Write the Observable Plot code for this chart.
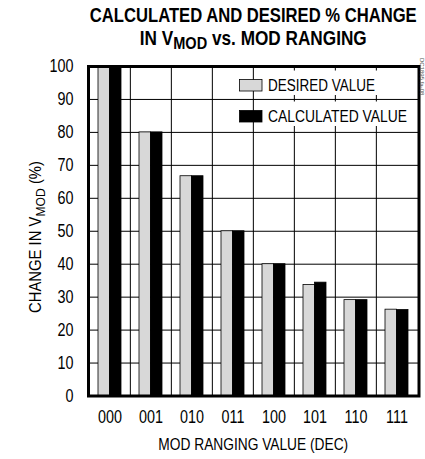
<!DOCTYPE html>
<html>
<head>
<meta charset="utf-8">
<script src="https://cdn.jsdelivr.net/npm/d3@7"></script>
<script src="https://cdn.jsdelivr.net/npm/@observablehq/plot@0.6"></script>
<style>
  html, body { margin: 0; padding: 0; background: #fff; }
  #chart { width: 425px; height: 459px; overflow: hidden; }
</style>
</head>
<body>
<div id="chart"></div>
<script>
// ---- data ----
const codes = ["000", "001", "010", "011", "100", "101", "110", "111"];
const desired = [100, 80, 66.7, 50, 40, 33.7, 29.1, 26.2];
const calculated = [100, 80, 66.7, 50, 40, 34.4, 29.1, 26.1];
const seriesNames = ["DESIRED VALUE", "CALCULATED VALUE"];
const yTicks = [0, 10, 20, 30, 40, 50, 60, 70, 80, 90, 100];
const titleLine1 = "CALCULATED AND DESIRED % CHANGE";
const titleLine2 = ["IN V", "MOD", " vs. MOD RANGING"];
const xLabel = "MOD RANGING VALUE (DEC)";
const yLabel = ["CHANGE IN V", "MOD", " (%)"];
const watermark = "DC1895 fa-08";

// ---- build ----
const desiredRows = codes.map((c, i) => ({code: c, value: desired[i]}));
const calcRows = codes.map((c, i) => ({code: c, value: calculated[i]}));

const W = 425, H = 459, ML = 88, MR = 6.5, MT = 66, MB = 63.5;
const step = (W - ML - MR) / codes.length;
const padIn = 0.44;
const bw = step * (1 - padIn);
const font = "'Liberation Sans', Arial, sans-serif";

const chart = Plot.plot({
  width: W, height: H,
  marginLeft: ML, marginRight: MR, marginTop: MT, marginBottom: MB,
  style: {fontFamily: font, fontSize: "17.5px", color: "#000", background: "#fff"},
  x: {domain: codes, paddingInner: padIn, paddingOuter: padIn / 2, align: 0.5, label: null, tickSize: 0, tickPadding: 14.5},
  y: {domain: [0, 100], ticks: yTicks, tickSize: 0, tickPadding: 15, label: null},
  marks: [
    Plot.ruleY(yTicks.filter(t => t > 0 && t < 100), {stroke: "#000", strokeWidth: 1}),
    Plot.ruleX(codes.slice(1), {stroke: "#000", strokeWidth: 1, dx: -step / 2}),
    Plot.barY(desiredRows, {x: "code", y: "value", fill: "#d8d8d8", stroke: "#000", strokeWidth: 0.8, insetRight: bw / 2}),
    Plot.barY(calcRows, {x: "code", y: "value", fill: "#000", stroke: "#000", strokeWidth: 0.8, insetLeft: bw / 2}),
    Plot.frame({stroke: "#000", strokeWidth: 3})
  ]
});
document.getElementById("chart").appendChild(chart);

const svg = d3.select(chart);

// condense Plot's tick labels (narrow face look)
svg.selectAll("text").each(function() {
  const L = this.getComputedTextLength();
  if (L > 0) {
    this.setAttribute("textLength", L * 0.82);
    this.setAttribute("lengthAdjust", "spacingAndGlyphs");
  }
});

// place a text at (x, y) with rotation, squeezed horizontally to a target width
function placeText(sel, x, y, rot, target) {
  const L = sel.node().getComputedTextLength();
  const sx = L > 0 ? target / L : 1;
  sel.attr("x", 0).attr("y", 0)
    .attr("transform", `translate(${x},${y}) rotate(${rot}) scale(${sx},1)`);
}

const cx = (ML + (W - MR)) / 2;

// title
const t1 = svg.append("text").attr("text-anchor", "middle")
  .attr("font-family", font).attr("font-weight", "bold").attr("font-size", 19.5).attr("fill", "#000")
  .text(titleLine1);
placeText(t1, cx, 22, 0, 327);
const t2 = svg.append("text").attr("text-anchor", "middle")
  .attr("font-family", font).attr("font-weight", "bold").attr("font-size", 19.5).attr("fill", "#000");
t2.append("tspan").text(titleLine2[0]);
t2.append("tspan").attr("font-size", 16.5).attr("dy", 4).text(titleLine2[1]);
t2.append("tspan").attr("dy", -4).text(titleLine2[2]);
placeText(t2, cx, 45, 0, 227);

// x axis label
const xl = svg.append("text").attr("text-anchor", "middle")
  .attr("font-family", font).attr("font-size", 16.5).attr("fill", "#000").text(xLabel);
placeText(xl, cx, 450, 0, 190);

// y axis label with subscript
const yl = svg.append("text").attr("text-anchor", "middle")
  .attr("font-family", font).attr("font-size", 16.5).attr("fill", "#000");
yl.append("tspan").text(yLabel[0]);
yl.append("tspan").attr("font-size", 13.5).attr("dy", 4).text(yLabel[1]);
yl.append("tspan").attr("dy", -4).text(yLabel[2]);
placeText(yl, 41, 237, -90, 152);

// legend
const lg = svg.append("g").attr("font-family", font).attr("font-size", 16.5).attr("fill", "#000");
const rowsY = [79.5, 110.5];
const fills = ["#d8d8d8", "#000"];
const legendWidths = [107, 139];
seriesNames.forEach((name, i) => {
  const y0 = rowsY[i];
  lg.append("rect").attr("x", 264).attr("y", y0 - 9).attr("width", 148).attr("height", 24.5).attr("fill", "#fff");
  lg.append("rect").attr("x", 239.5).attr("y", y0).attr("width", 22.5).attr("height", 11.5)
    .attr("fill", fills[i]).attr("stroke", "#000").attr("stroke-width", 0.8);
  const tx = lg.append("text").attr("text-anchor", "start").attr("fill", "#000").text(name);
  placeText(tx, 268, y0 + 11.5, 0, legendWidths[i]);
});

// watermark
svg.append("text")
  .attr("transform", "translate(419.5,58) rotate(90)")
  .attr("text-anchor", "start")
  .attr("font-family", font).attr("font-size", 6).attr("fill", "#555")
  .text(watermark);
</script>
</body>
</html>
